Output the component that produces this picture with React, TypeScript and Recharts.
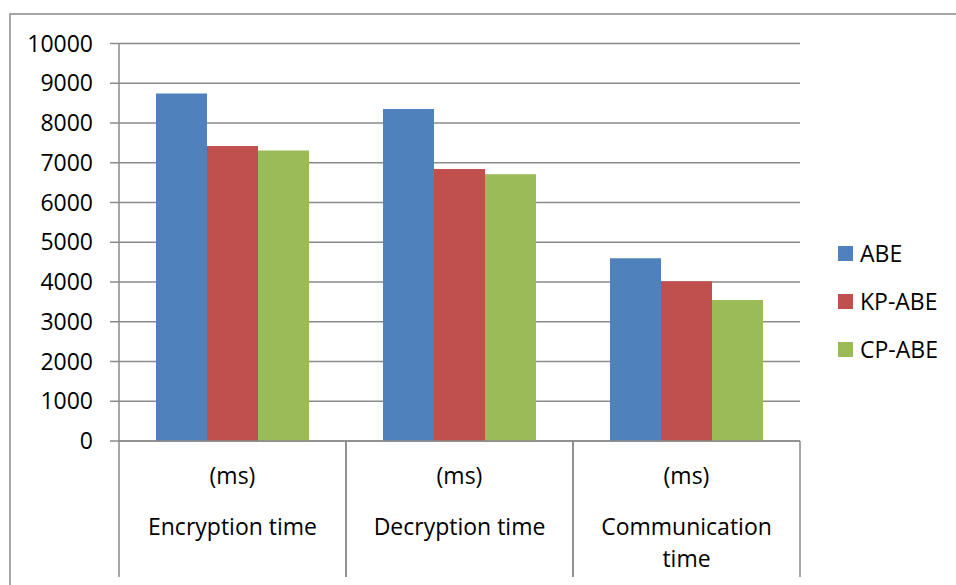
import React from 'react';
import { BarChart, Bar, XAxis, YAxis, CartesianGrid, Legend } from 'recharts';

const categories = ['Encryption time', 'Decryption time', 'Communication time'];
const unitLabel = '(ms)';
const abe = [8740, 8350, 4600];
const kpAbe = [7420, 6840, 4020];
const cpAbe = [7310, 6710, 3550];
const yTicks = [0, 1000, 2000, 3000, 4000, 5000, 6000, 7000, 8000, 9000, 10000];

const SERIES = [
  { key: 'ABE', color: '#4F81BD' },
  { key: 'KP-ABE', color: '#C0504D' },
  { key: 'CP-ABE', color: '#9BBB59' },
];

const FONT = '"Open Sans", sans-serif';
const GRID = '#8a8a8a';

const chartData = categories.map((name, i) => ({
  name,
  ABE: abe[i],
  'KP-ABE': kpAbe[i],
  'CP-ABE': cpAbe[i],
}));

const wrapLabel = (label: string) => {
  if (label.length <= 16) return [label];
  const words = label.split(' ');
  return [words.slice(0, -1).join(' '), words[words.length - 1]];
};

const CategoryTick = (props: any) => {
  const { x, y, payload } = props;
  const half = payload.offset || 113.5;
  const lines = wrapLabel(payload.value);
  return (
    <g>
      <line x1={x - half} y1={y} x2={x - half} y2={y + 136} stroke={GRID} strokeWidth={1.5} />
      <line x1={x + half} y1={y} x2={x + half} y2={y + 136} stroke={GRID} strokeWidth={1.5} />
      <text x={x} y={y + 34} textAnchor="middle" dominantBaseline="central" fontFamily={FONT} fontSize={23} fill="#000">
        {unitLabel}
      </text>
      {lines.map((ln, i) => (
        <text key={i} x={x} y={y + 85 + i * 32} textAnchor="middle" dominantBaseline="central" fontFamily={FONT} fontSize={23} fill="#000">
          {ln}
        </text>
      ))}
    </g>
  );
};

const LegendContent = () => (
  <div style={{ fontFamily: FONT, fontSize: 23, color: '#000' }}>
    {SERIES.map((s) => (
      <div key={s.key} style={{ display: 'flex', alignItems: 'center', height: 48 }}>
        <span style={{ width: 15, height: 15, background: s.color, marginRight: 7, display: 'inline-block' }} />
        <span>{s.key}</span>
      </div>
    ))}
  </div>
);

export default function App() {
  return (
    <div style={{ position: 'absolute', left: 0, top: 0, width: 956, height: 585, background: '#fff' }}>
      <div
        style={{
          position: 'absolute',
          left: 9,
          top: 13,
          right: 0,
          bottom: 0,
          borderTop: '2px solid #a6a6a6',
          borderLeft: '2px solid #a6a6a6',
        }}
      />
      <BarChart
        width={956}
        height={585}
        data={chartData}
        margin={{ top: 43.5, right: 38, left: 0, bottom: 8 }}
        barCategoryGap="16.3%"
        barGap={0}
        style={{ position: 'absolute', left: 0, top: 0 }}
      >
        <CartesianGrid vertical={false} stroke={GRID} strokeWidth={1.5} />
        <XAxis
          dataKey="name"
          height={136}
          axisLine={{ stroke: GRID, strokeWidth: 1.5 }}
          tickLine={false}
          tickSize={0}
          tickMargin={0}
          tick={<CategoryTick />}
          interval={0}
        />
        <YAxis
          domain={[0, 10000]}
          ticks={yTicks}
          width={119}
          tickSize={9}
          tickMargin={17}
          axisLine={{ stroke: GRID, strokeWidth: 1.5 }}
          tickLine={{ stroke: GRID, strokeWidth: 1.5 }}
          tick={{ fontFamily: FONT, fontSize: 23, fill: '#000' }}
          interval={0}
        />
        <Legend
          layout="vertical"
          align="right"
          verticalAlign="middle"
          width={118}
          content={<LegendContent />}
          wrapperStyle={{ left: 838, top: 229, width: 118 }}
        />
        {SERIES.map((s) => (
          <Bar key={s.key} dataKey={s.key} fill={s.color} isAnimationActive={false} />
        ))}
      </BarChart>
    </div>
  );
}
